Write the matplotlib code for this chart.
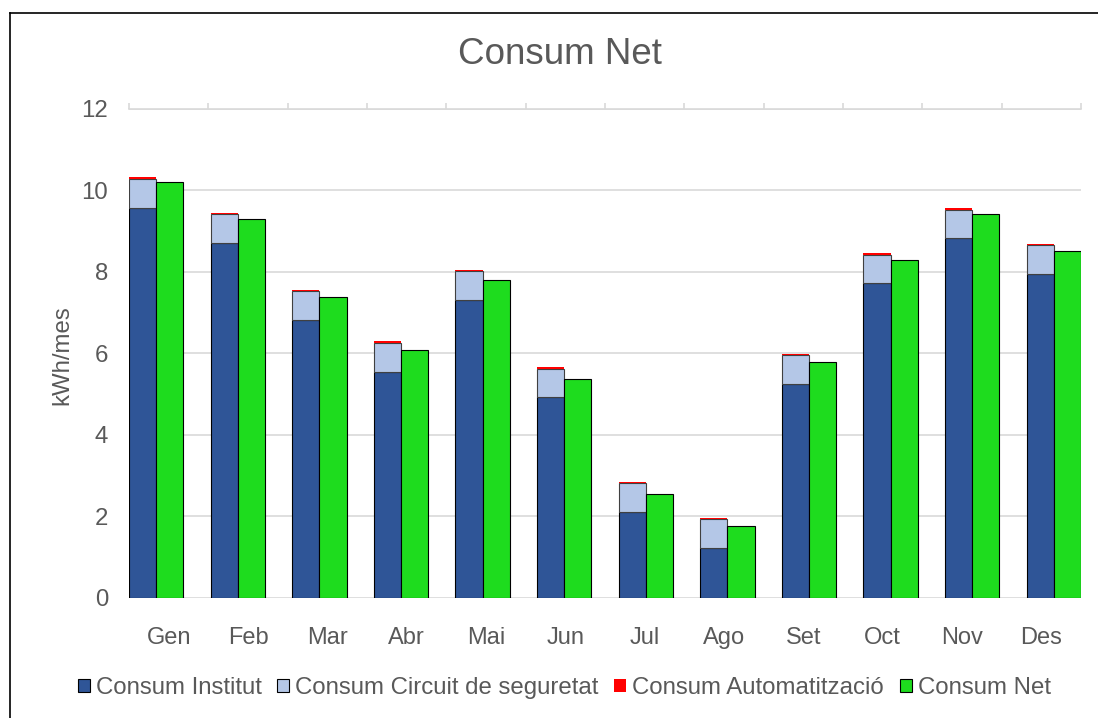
import numpy as np
import matplotlib
matplotlib.use('Agg')
from matplotlib import pyplot as plt
from matplotlib.lines import Line2D
from matplotlib.patches import Patch

plt.rcParams['font.family'] = ['Liberation Sans', 'DejaVu Sans']

mesos = ['Gen', 'Feb', 'Mar', 'Abr', 'Mai', 'Jun', 'Jul', 'Ago', 'Set', 'Oct', 'Nov', 'Des']
institut = [9.57, 8.71, 6.82, 5.55, 7.31, 4.92, 2.11, 1.23, 5.25, 7.71, 8.82, 7.95]
circuit = [0.70, 0.70, 0.70, 0.70, 0.70, 0.70, 0.70, 0.70, 0.70, 0.70, 0.70, 0.70]
automat = [0.04, 0.04, 0.04, 0.04, 0.04, 0.04, 0.04, 0.04, 0.04, 0.04, 0.04, 0.04]
net = [10.20, 9.29, 7.39, 6.09, 7.79, 5.38, 2.56, 1.77, 5.78, 8.29, 9.41, 8.50]

c_inst = '#2F5597'
c_circ = '#B4C7E7'
c_auto = '#FF0000'
c_net = '#1EDC1E'
txt = '#595959'
grid = '#D9D9D9'

fig = plt.figure(figsize=(10.98, 7.18), dpi=100)
ax = fig.add_axes([129 / 1098, 1 - 598 / 718, (1081 - 129) / 1098, (598 - 108.5) / 718])

# bars on their own x scale
bx = ax.twiny()
bx.set_xlim(-1 / 3, 11 + 1 / 3)
bx.set_ylim(0, 12)
bx.axis('off')
x = np.arange(len(mesos))
w = 1 / 3
base2 = np.array(institut) + np.array(circuit)
bx.bar(x - w / 2, institut, w, color=c_inst, edgecolor='black', linewidth=0.8)
bx.bar(x - w / 2, circuit, w, bottom=institut, color=c_circ, edgecolor='#404040', linewidth=0.8)
bx.bar(x - w / 2, automat, w, bottom=base2, color=c_auto, edgecolor='none')
bx.bar(x + w / 2, net, w, color=c_net, edgecolor='black', linewidth=0.8)

# category axis (labels + ticks along the top line)
ax.set_xlim(-0.5, 11.5)
ax.set_ylim(0, 12)
ax.set_xticks(np.arange(12))
ax.set_xticklabels(mesos)
ax.set_xticks(np.arange(-0.5, 12, 1), minor=True)
ax.tick_params(axis='x', which='major', bottom=True, top=False, length=0, pad=21,
               labelsize=17, labelcolor=txt)
ax.tick_params(axis='x', which='minor', bottom=False, top=True, length=4,
               width=1.2, color=grid, direction='out')
ax.set_yticks(np.arange(0, 13, 2))
ax.tick_params(axis='y', length=0, pad=15, labelsize=17.3, labelcolor=txt)
ax.yaxis.grid(True, color=grid, linewidth=1.2)
ax.set_axisbelow(True)
for s in ['left', 'right', 'bottom']:
    ax.spines[s].set_visible(False)
ax.spines['top'].set_color(grid)
ax.spines['top'].set_linewidth(1.2)

fig.text(0.51, 1 - 55 / 718, 'Consum Net', ha='center', va='center', fontsize=26.5, color=txt)
fig.text(62 / 1098, 1 - 355 / 718, 'kWh/mes', ha='center', va='center', rotation=90,
         fontsize=17.3, color=txt)

handles = [Patch(facecolor=c_inst, edgecolor='black', linewidth=0.8),
           Patch(facecolor=c_circ, edgecolor='black', linewidth=0.8),
           Patch(facecolor=c_auto, edgecolor='none'),
           Patch(facecolor=c_net, edgecolor='black', linewidth=0.8)]
labels = ['Consum Institut', 'Consum Circuit de seguretat', 'Consum Automatització', 'Consum Net']
leg = fig.legend(handles, labels, loc='center', bbox_to_anchor=(0.514, 1 - 688 / 718), ncol=4,
                 frameon=False, fontsize=17.3, handlelength=0.5, handleheight=0.5,
                 handletextpad=0.25, columnspacing=0.65, labelcolor=txt)

# chart border
fig.add_artist(Line2D([10 / 1098, 10 / 1098], [0, 1 - 13 / 718], color='black', linewidth=1.2))
fig.add_artist(Line2D([10 / 1098, 1], [1 - 13 / 718, 1 - 13 / 718], color='black', linewidth=1.2))

fig.savefig('out.png', dpi=100)
